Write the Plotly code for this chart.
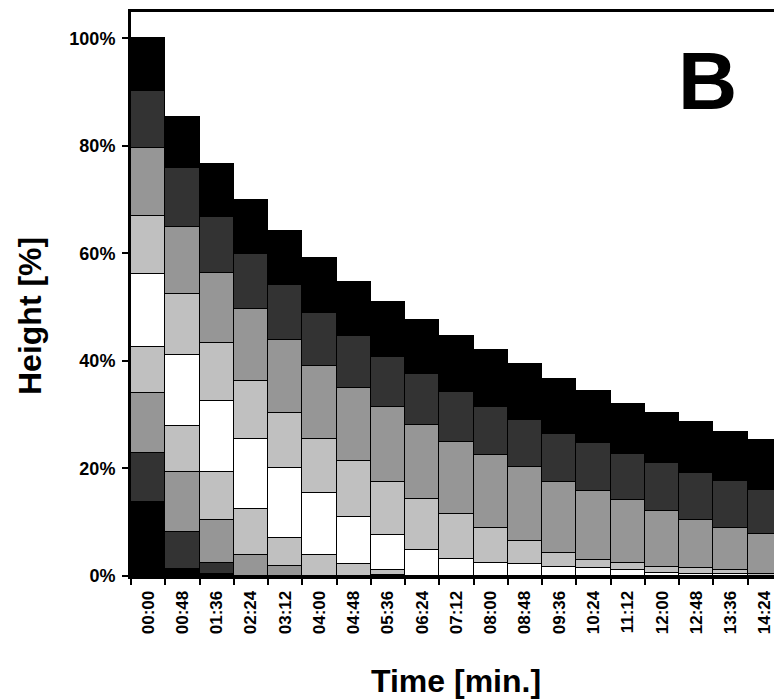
import plotly.graph_objects as go

times = ["00:00", "00:48", "01:36", "02:24", "03:12", "04:00", "04:48", "05:36", "06:24", "07:12",
         "08:00", "08:48", "09:36", "10:24", "11:12", "12:00", "12:48", "13:36", "14:24"]

y_tick_values = [0, 20, 40, 60, 80, 100]
y_tick_labels = ["0%", "20%", "40%", "60%", "80%", "100%"]

# layer thicknesses (% of initial height), bottom to top
layer1_black = [13.7, 1.3, 0.3, None, None, None, None, None, None, None,
                None, None, None, None, None, None, None, None, None]
layer2_dark = [9.1, 6.8, 2.1, None, None, None, None, None, None, None,
               None, None, None, None, None, None, None, None, None]
layer3_gray = [11.3, 11.2, 8.0, 3.9, 1.9, None, None, 0.2, None, None,
               None, None, None, None, None, None, None, None, None]
layer4_light = [8.5, 8.6, 8.9, 8.5, 5.1, 3.9, 2.2, 0.9, None, None,
                None, None, None, None, None, None, None, None, None]
layer5_white = [13.5, 13.2, 13.2, 13.1, 13.0, 11.5, 8.8, 6.5, 4.8, 3.2,
                2.5, 2.2, 1.6, 1.4, 1.2, 0.5, 0.4, 0.3, None]
layer6_light = [10.9, 11.3, 10.8, 10.8, 10.4, 10.0, 10.3, 9.8, 9.5, 8.3,
                6.4, 4.3, 2.7, 1.5, 1.2, 1.1, 1.0, 0.9, 0.3]
layer7_gray = [12.6, 12.6, 13.0, 13.3, 13.5, 13.7, 13.7, 14.1, 13.7, 13.4,
               13.6, 13.7, 13.2, 12.9, 11.7, 10.5, 9.0, 7.7, 7.5]
layer8_dark = [10.7, 10.9, 10.5, 10.3, 10.2, 9.9, 9.7, 9.2, 9.6, 9.4,
               8.9, 8.9, 9.0, 8.9, 8.5, 8.9, 8.8, 8.8, 8.2]
layer9_black = [9.7, 9.5, 9.9, 10.0, 10.1, 10.2, 10.0, 10.3, 10.0, 10.3,
                10.6, 10.3, 10.1, 9.7, 9.4, 9.4, 9.4, 9.0, 9.3]

layers = [layer1_black, layer2_dark, layer3_gray, layer4_light, layer5_white,
          layer6_light, layer7_gray, layer8_dark, layer9_black]
colors = ["#000000", "#333333", "#969696", "#c0c0c0", "#ffffff",
          "#c0c0c0", "#969696", "#333333", "#000000"]

FONT = "Liberation Sans, Arial, sans-serif"

fig = go.Figure()
for vals, col in zip(layers, colors):
    fig.add_trace(go.Bar(x=times, y=vals, marker=dict(color=col, line=dict(color="#000000", width=1.5)),
                         showlegend=False))

fig.update_layout(
    width=774, height=700,
    margin=dict(l=131, r=0, t=12, b=124),
    barmode="stack", bargap=0,
    plot_bgcolor="white", paper_bgcolor="white",
    font=dict(family=FONT, color="black"),
    xaxis=dict(
        type="category", range=[-0.5, 18.27],
        showline=True, linecolor="black", linewidth=3, mirror=True,
        ticks="outside", tickson="boundaries", ticklen=6, tickwidth=2, tickcolor="black",
        tickangle=-90, tickfont=dict(size=17, family=FONT, weight="bold"),
        ticklabelstandoff=5,
        showgrid=False, zeroline=False,
    ),
    yaxis=dict(
        range=[0, 104.9],
        tickmode="array", tickvals=y_tick_values, ticktext=y_tick_labels,
        showline=True, linecolor="black", linewidth=3,
        ticks="outside", ticklen=6, tickwidth=2, tickcolor="black",
        tickfont=dict(size=18, family=FONT, weight="bold"),
        ticklabelstandoff=3,
        showgrid=False, zeroline=False,
    ),
    annotations=[
        dict(text="B", xref="paper", yref="paper", x=0.896, y=0.879, xanchor="center", yanchor="middle",
             showarrow=False, font=dict(size=82, family=FONT, weight="bold", color="black")),
        dict(text="Time [min.]", xref="paper", yref="paper", x=(456 - 131) / 643, y=(576 - 681) / 564,
             xanchor="center", yanchor="middle", showarrow=False,
             font=dict(size=32, family=FONT, weight="bold", color="black")),
        dict(text="Height [%]", xref="paper", yref="paper", x=(30 - 131) / 643, y=(576 - 316) / 564,
             xanchor="center", yanchor="middle", textangle=-90, showarrow=False,
             font=dict(size=32, family=FONT, weight="bold", color="black")),
    ],
)

fig.write_html("out.html")
